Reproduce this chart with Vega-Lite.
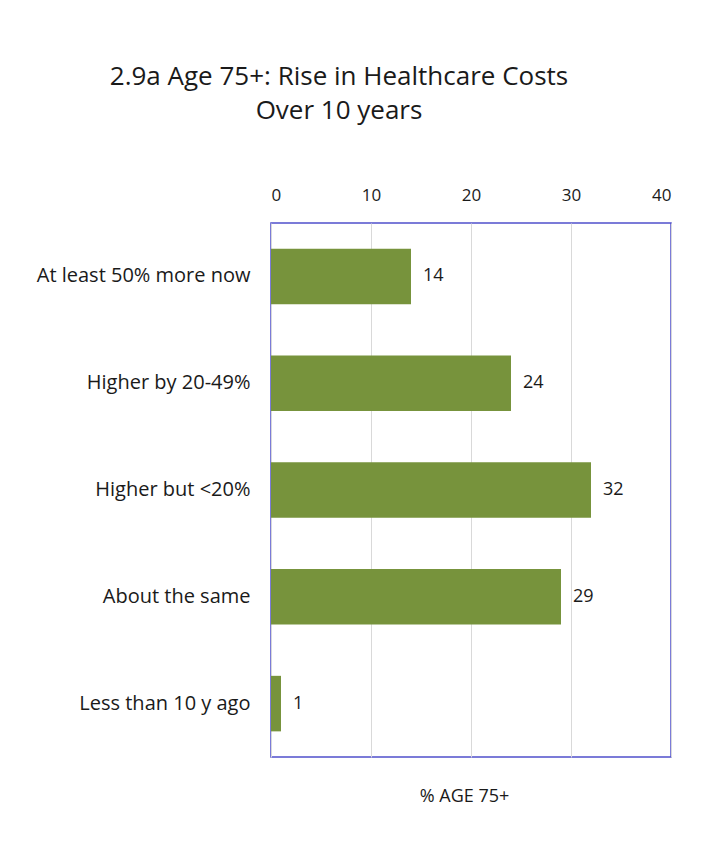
{
  "$schema": "https://vega.github.io/schema/vega-lite/v6.json",
  "autosize": "none",
  "width": 400,
  "height": 534,
  "padding": {"left": 271, "top": 223, "right": 36, "bottom": 106},
  "background": "white",
  "title": {
    "text": ["2.9a Age 75+: Rise in Healthcare  Costs", "Over  10 years"],
    "frame": "group",
    "anchor": "middle",
    "dx": -132,
    "offset": 62,
    "font": "Open Sans",
    "fontSize": 26,
    "fontWeight": "normal",
    "color": "#1a1a1a",
    "lineHeight": 34
  },
  "data": {
    "values": [
      {"category": "At least 50% more now", "value": 14},
      {"category": "Higher by 20-49%", "value": 24},
      {"category": "Higher but <20%", "value": 32},
      {"category": "About the same", "value": 29},
      {"category": "Less than 10 y ago", "value": 1}
    ]
  },
  "encoding": {
    "y": {
      "field": "category",
      "type": "nominal",
      "sort": null,
      "scale": {"paddingInner": 0.48, "paddingOuter": 0.24},
      "axis": {
        "title": null,
        "ticks": false,
        "domain": false,
        "labelPadding": 21,
        "labelFont": "Open Sans",
        "labelFontSize": 20,
        "labelColor": "#1a1a1a",
        "labelLimit": 300
      }
    }
  },
  "layer": [
    {
      "mark": {"type": "bar", "color": "#77933C"},
      "encoding": {
        "x": {
          "field": "value",
          "type": "quantitative",
          "scale": {"domain": [0, 40], "nice": false},
          "axis": {
            "orient": "top",
            "title": null,
            "values": [0, 10, 20, 30, 40],
            "ticks": false,
            "domain": false,
            "grid": true,
            "gridColor": "#D9D9D9",
            "gridWidth": 1,
            "labelPadding": 19,
            "labelFont": "Open Sans",
            "labelFontSize": 17,
            "labelColor": "#1a1a1a"
          }
        }
      }
    },
    {
      "mark": {"type": "text", "align": "left", "dx": 12, "font": "Open Sans", "fontSize": 18, "color": "#1a1a1a"},
      "encoding": {
        "x": {
          "field": "value",
          "type": "quantitative",
          "axis": {
            "orient": "bottom",
            "labels": false,
            "ticks": false,
            "domain": false,
            "grid": false,
            "title": "% AGE 75+",
            "titleFont": "Open Sans",
            "titleFontSize": 18,
            "titleFontWeight": "normal",
            "titleColor": "#1a1a1a",
            "titlePadding": 30,
            "titleX": 193
          }
        },
        "text": {"field": "value", "type": "quantitative"}
      }
    }
  ],
  "resolve": {"axis": {"x": "independent"}},
  "config": {
    "view": {"stroke": "#5050CC", "strokeWidth": 1.5}
  }
}
